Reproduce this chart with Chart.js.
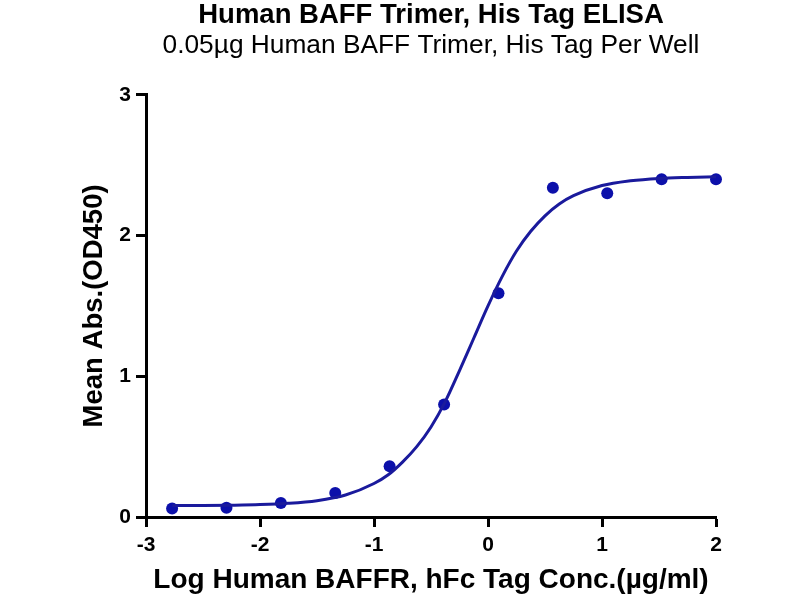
<!DOCTYPE html>
<html>
<head>
<meta charset="utf-8">
<script src="https://cdn.jsdelivr.net/npm/chart.js@4.4.1/dist/chart.umd.min.js"></script>
<style>
  html, body { margin: 0; padding: 0; background: #fff; }
  #wrap { width: 800px; height: 600px; }
</style>
</head>
<body>
<div id="wrap"><canvas id="elisa" width="800" height="600"></canvas></div>
<script>
// measured points: log10 concentration vs mean OD450
const doseLog = [-2.771, -2.294, -1.817, -1.340, -0.863, -0.385, 0.092, 0.569, 1.046, 1.523, 2.000];
const meanAbs = [0.06, 0.065, 0.10, 0.17, 0.36, 0.80, 1.59, 2.34, 2.30, 2.40, 2.40];

// fitted curve
const curveX = [-2.77, -2.5, -2.25, -2.0, -1.75, -1.5, -1.25, -1.0, -0.875, -0.75, -0.625, -0.5, -0.375,
  -0.25, -0.125, 0, 0.125, 0.25, 0.375, 0.5, 0.625, 0.75, 1.0, 1.25, 1.5, 1.75, 2.0];
const curveY = [0.081, 0.082, 0.084, 0.088, 0.097, 0.116, 0.156, 0.238, 0.30, 0.39, 0.50, 0.64, 0.82,
  1.04, 1.27, 1.50, 1.71, 1.89, 2.03, 2.14, 2.224, 2.283, 2.355, 2.389, 2.406, 2.413, 2.417];

const xTicks = [-3, -2, -1, 0, 1, 2];
const yTicks = [0, 1, 2, 3];

const FONT = "'Liberation Sans', Arial, sans-serif";
const BLUE = '#0c10aa';

const curvePts = curveX.map((x, i) => ({ x: x, y: curveY[i] }));
const dataPts = doseLog.map((x, i) => ({ x: x, y: meanAbs[i] }));

new Chart(document.getElementById('elisa'), {
  type: 'scatter',
  data: {
    datasets: [
      {
        label: 'fit',
        data: curvePts,
        showLine: true,
        borderColor: '#1a1a9c',
        borderWidth: 3,
        pointRadius: 0,
        cubicInterpolationMode: 'monotone',
        clip: false,
      },
      {
        label: 'Mean Abs',
        data: dataPts,
        showLine: false,
        pointRadius: 6,
        pointBackgroundColor: BLUE,
        pointBorderColor: BLUE,
        pointBorderWidth: 0,
        clip: false,
      },
    ],
  },
  options: {
    responsive: false,
    animation: false,
    devicePixelRatio: 1,
    layout: { padding: { left: 0, right: 84, top: 0, bottom: 0 } },
    plugins: {
      legend: { display: false },
      tooltip: { enabled: false },
      title: {
        display: true,
        fullSize: false,
        text: 'Human BAFF Trimer, His Tag ELISA',
        color: '#000',
        font: { family: FONT, size: 27.5, weight: 'bold', lineHeight: 1 },
        padding: { top: 2, bottom: 3 },
      },
      subtitle: {
        display: true,
        fullSize: false,
        text: '0.05\u00b5g Human BAFF Trimer, His Tag Per Well',
        color: '#000',
        font: { family: FONT, size: 26.3, weight: 'normal', lineHeight: 1 },
        padding: { top: 0, bottom: 36 },
      },
    },
    scales: {
      x: {
        type: 'linear',
        min: -3,
        max: 2,
        afterBuildTicks: (s) => { s.ticks = xTicks.map(v => ({ value: v })); },
        afterFit: (s) => { s.height = 83; },
        ticks: {
          color: '#000',
          font: { family: FONT, size: 21, weight: 'bold' },
          padding: 6,
        },
        grid: { drawOnChartArea: false, tickLength: 10, tickWidth: 3, tickColor: '#000' },
        border: { display: true, width: 3, color: '#000' },
        title: {
          display: true,
          text: 'Log Human BAFFR, hFc Tag Conc.(\u00b5g/ml)',
          color: '#000',
          font: { family: FONT, size: 28, weight: 'bold' },
          padding: { top: 0, bottom: 3 },
        },
      },
      y: {
        min: 0,
        max: 3,
        afterBuildTicks: (s) => { s.ticks = yTicks.map(v => ({ value: v })); },
        afterFit: (s) => { s.width = 146; },
        ticks: {
          color: '#000',
          font: { family: FONT, size: 21, weight: 'bold' },
          padding: 5,
        },
        grid: { drawOnChartArea: false, tickLength: 10, tickWidth: 3, tickColor: '#000' },
        border: { display: true, width: 3, color: '#000' },
        title: {
          display: true,
          text: 'Mean Abs.(OD450)',
          color: '#000',
          font: { family: FONT, size: 27.5, weight: 'bold' },
          padding: { top: 78, bottom: 0 },
        },
      },
    },
  },
});
</script>
</body>
</html>
